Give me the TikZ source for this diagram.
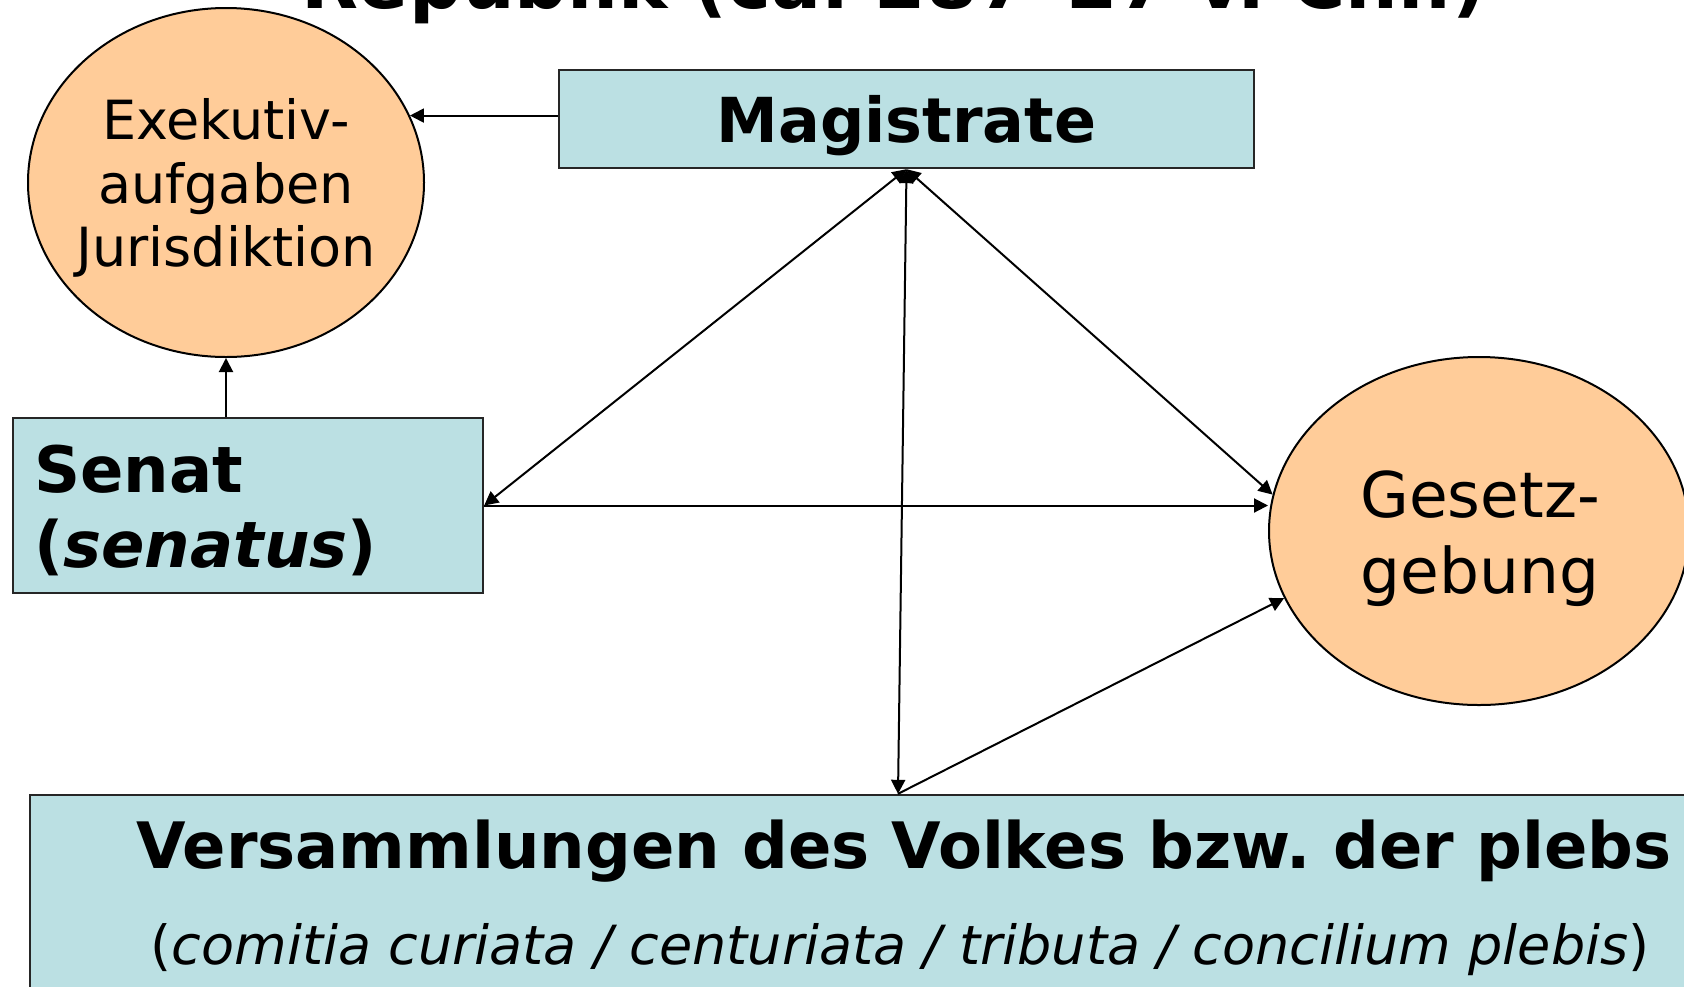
\documentclass[tikz,border=0pt]{standalone}
\usepackage{fontspec}
\setmainfont{DejaVu Sans}
\usetikzlibrary{arrows.meta,shapes.geometric}
\definecolor{boxblue}{RGB}{187,224,227}
\definecolor{ovalorange}{RGB}{255,204,153}
\frenchspacing
\tikzset{
  box/.style={draw=black!85,line width=1.2pt,fill=boxblue,rectangle,inner sep=0pt},
  oval/.style={draw,line width=1pt,fill=ovalorange,ellipse,inner sep=0pt},
  conn/.style={line width=1pt,-{Triangle[length=7pt,width=7pt]}},
  twoway/.style={line width=1pt,{Triangle[length=7pt,width=7pt]}-{Triangle[length=7pt,width=7pt]}},
}
\begin{document}
\begin{tikzpicture}[x=0.5pt,y=-0.5pt]
   \useasboundingbox (0,0) rectangle (1684,986);
   % title, cut by the top of the page
   \node[anchor=base,font=\bfseries\fontsize{37}{44}\selectfont] (title) at (894,8)
   {Republik (ca. 287--27 v. Chr.)};

   \node[oval,minimum width=198pt,minimum height=174.5pt] (exek) at (226,182.5) {};
   \node[align=center,font=\fontsize{27}{31.75}\selectfont] (exektext) at (226,188)
   {Exekutiv-\\aufgaben\\Jurisdiktion};
   \node[oval,minimum width=210pt,minimum height=174pt] (gesetz) at (1479,531) {};
   \node[align=center,font=\fontsize{31.5}{38}\selectfont] (gesetztext) at (1480,539)
   {Gesetz-\\gebung};

   \node[box,minimum width=347.5pt,minimum height=49pt,text depth=0pt,
   font=\bfseries\fontsize{31}{37}\selectfont] (mag) at (906.5,119) {Magistrate};
   \node[box,minimum width=235pt,minimum height=87.5pt] (senat) at (248,505.5) {};
   \node[anchor=west,align=left,font=\bfseries\fontsize{32}{37.5}\selectfont]
   (senattext) at (27,510) {Senat\\(\textit{senatus})};
   \node[box,minimum width=868pt,minimum height=117.5pt] (versamm) at (898,912.5) {};
   \node[font=\bfseries\fontsize{32}{38}\selectfont] (versammtext) at (904,851.5)
   {Versammlungen des Volkes bzw. der plebs};
   \node[font=\fontsize{27}{32}\selectfont] (comitia) at (900,950)
   {(\textit{comitia curiata / centuriata / tributa / concilium plebis})};

   \draw[conn] (mag.west |- exek.20) -- (exek.20);
   \draw[conn] (senat.north -| exek.south) -- (exek.south);
   \draw[twoway] (senat.east) -- (mag.south);
   \draw[twoway] (mag.south) -- (versamm.north);
   \draw[twoway] (mag.south) -- (gesetz.170);
   \draw[conn] (senat.east) -- (senat.east -| gesetz.west);
   \draw[conn] (versamm.north) -- (gesetz.199);
\end{tikzpicture}
\end{document}
